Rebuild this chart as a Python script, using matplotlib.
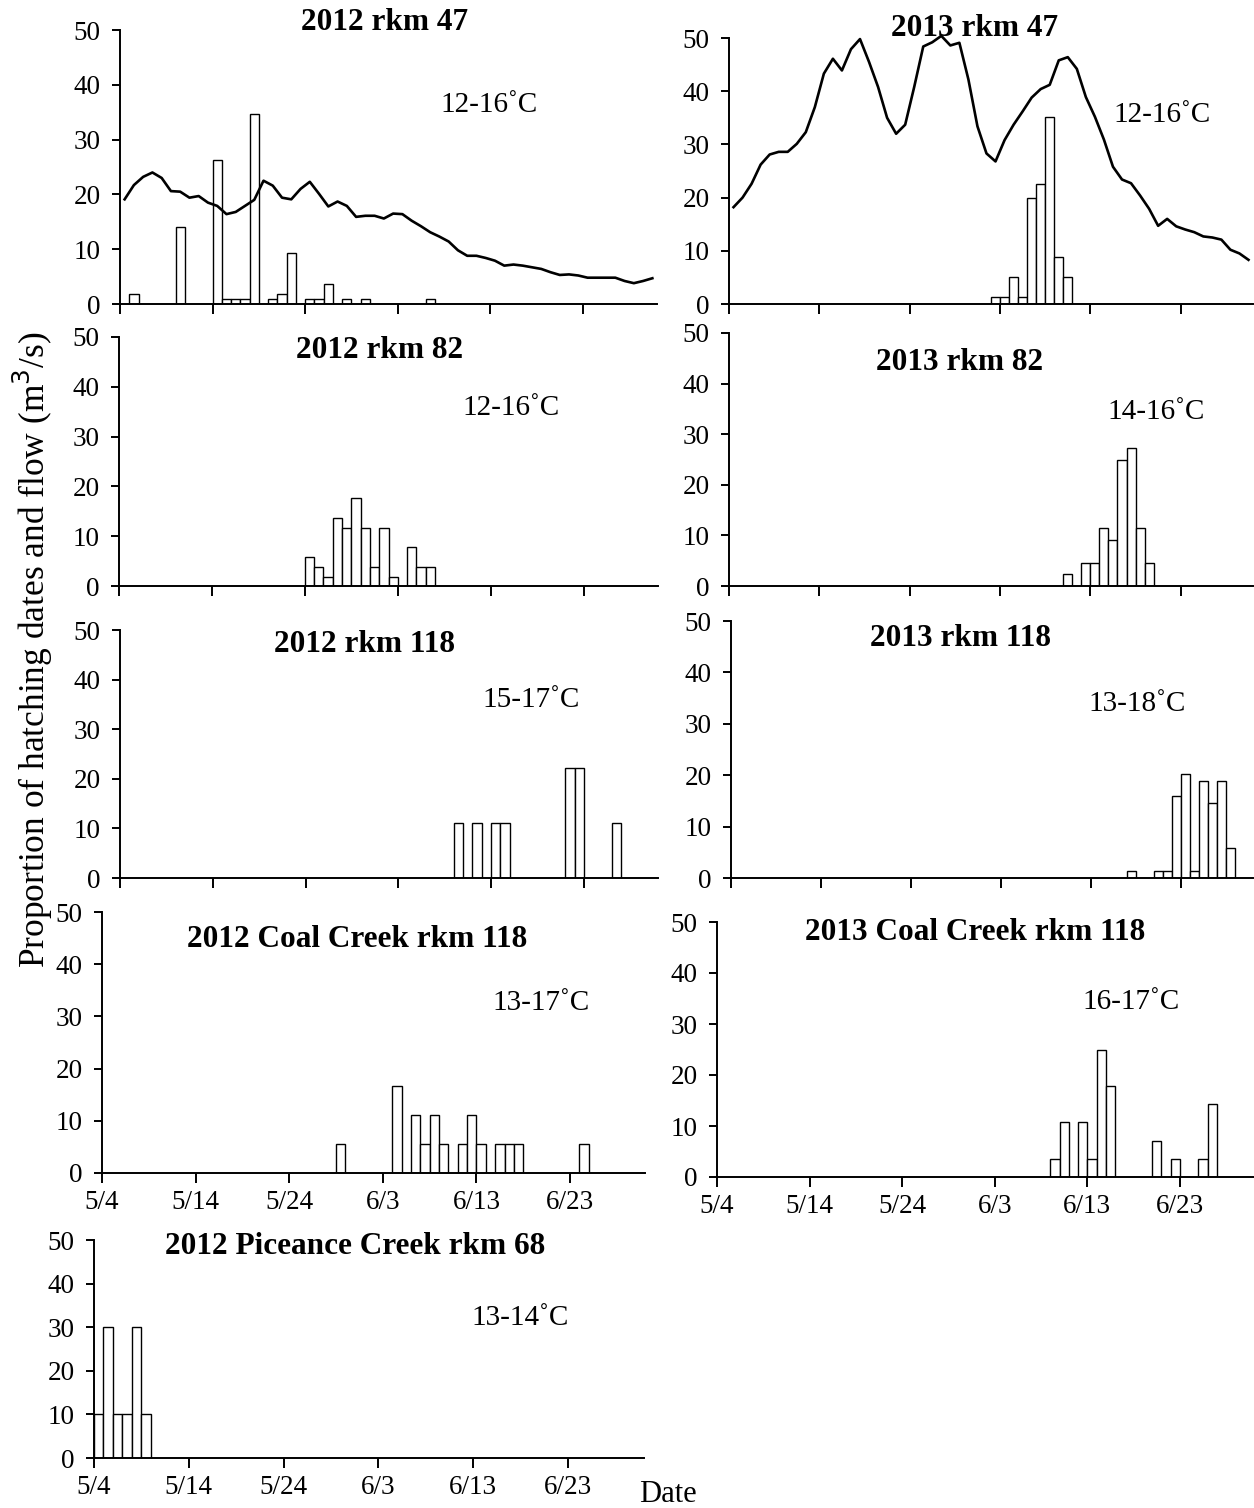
import numpy as np
import matplotlib.pyplot as plt

plt.rcParams['font.family'] = ['Liberation Serif', 'DejaVu Serif']

# Figure size in pixels
W, H = 1254, 1508

# --- Data: day index counted from 5/4 (0 = 5/4), proportion (%) of hatching dates ---
days_12_47 = [1, 6, 10, 11, 12, 13, 14, 16, 17, 18, 20, 21, 22, 24, 26, 33]
prop_12_47 = [1.8, 14.0, 26.2, 0.9, 0.9, 0.9, 34.6, 0.9, 1.8, 9.3, 0.9, 0.9, 3.6, 0.9, 0.9, 0.9]

days_13_47 = [29, 30, 31, 32, 33, 34, 35, 36, 37]
prop_13_47 = [1.25, 1.25, 5.1, 1.25, 20.0, 22.6, 35.1, 8.8, 5.1]

days_12_82 = [20, 21, 22, 23, 24, 25, 26, 27, 28, 29, 31, 32, 33]
prop_12_82 = [5.8, 3.9, 1.9, 13.7, 11.7, 17.6, 11.7, 3.9, 11.7, 1.9, 7.8, 3.9, 3.9]

days_13_82 = [37, 39, 40, 41, 42, 43, 44, 45, 46]
prop_13_82 = [2.3, 4.5, 4.5, 11.4, 9.1, 25.0, 27.3, 11.4, 4.5]

days_12_118 = [36, 38, 40, 41, 48, 49, 53]
prop_12_118 = [11.1, 11.1, 11.1, 11.1, 22.2, 22.2, 11.1]

days_13_118 = [44, 47, 48, 49, 50, 51, 52, 53, 54, 55]
prop_13_118 = [1.4, 1.4, 1.4, 15.9, 20.3, 1.4, 18.8, 14.5, 18.8, 5.8]

days_12_coal = [25, 31, 33, 34, 35, 36, 38, 39, 40, 42, 43, 44, 51]
prop_12_coal = [5.6, 16.7, 11.1, 5.6, 11.1, 5.6, 5.6, 11.1, 5.6, 5.6, 5.6, 5.6, 5.6]

days_13_coal = [36, 37, 39, 40, 41, 42, 47, 49, 52, 53]
prop_13_coal = [3.6, 10.7, 10.7, 3.6, 25.0, 17.9, 7.1, 3.6, 3.6, 14.3]

days_12_pic = [0, 1, 2, 3, 4, 5]
prop_12_pic = [10, 30, 10, 10, 30, 10]

# Daily flow (m3/s), one value per day from 5/4 to 6/30
flow_2012 = [19.1, 21.7, 23.2, 24.0, 23.0, 20.6, 20.5, 19.4, 19.7, 18.5,
             17.9, 16.4, 16.8, 17.9, 19.0, 22.5, 21.6, 19.4, 19.1, 21.0,
             22.3, 20.1, 17.8, 18.7, 17.9, 15.9, 16.1, 16.1, 15.6, 16.5,
             16.4, 15.2, 14.2, 13.1, 12.3, 11.4, 9.8, 8.8, 8.8, 8.4,
             7.9, 7.0, 7.2, 7.0, 6.7, 6.4, 5.8, 5.3, 5.4, 5.2,
             4.8, 4.8, 4.8, 4.8, 4.2, 3.8, 4.2, 4.7]
flow_2013 = [18.2, 20.0, 22.6, 26.2, 28.1, 28.6, 28.6, 30.1, 32.3, 37.0,
             43.3, 46.1, 43.9, 47.9, 49.8, 45.5, 40.8, 35.0, 32.0, 33.7,
             40.8, 48.4, 49.2, 50.4, 48.6, 49.1, 42.2, 33.4, 28.3, 26.8,
             30.8, 33.7, 36.2, 38.8, 40.4, 41.2, 45.8, 46.4, 44.2, 38.9,
             35.2, 30.9, 25.8, 23.4, 22.7, 20.4, 17.9, 14.7, 16.0, 14.6,
             14.0, 13.5, 12.7, 12.5, 12.1, 10.2, 9.5, 8.3]

tick_days = [0, 10, 20, 30, 40, 50]
tick_labels = ['5/4', '5/14', '5/24', '6/3', '6/13', '6/23']
n_days = 58

titles = ['2012 rkm 47', '2013 rkm 47', '2012 rkm 82', '2013 rkm 82',
          '2012 rkm 118', '2013 rkm 118', '2012 Coal Creek rkm 118',
          '2013 Coal Creek rkm 118', '2012 Piceance Creek rkm 68']
temps = ['12-16˚C', '12-16˚C', '12-16˚C', '14-16˚C', '15-17˚C',
         '13-18˚C', '13-17˚C', '16-17˚C', '13-14˚C']

panels = [
    (days_12_47, prop_12_47, flow_2012),
    (days_13_47, prop_13_47, flow_2013),
    (days_12_82, prop_12_82, None),
    (days_13_82, prop_13_82, None),
    (days_12_118, prop_12_118, None),
    (days_13_118, prop_13_118, None),
    (days_12_coal, prop_12_coal, None),
    (days_13_coal, prop_13_coal, None),
    (days_12_pic, prop_12_pic, None),
]

# axes boxes in pixels: left, top, right, bottom
boxes = [(120, 30, 657, 304), (729, 38, 1253, 304),
         (119, 337, 658, 586), (729, 333, 1253, 586),
         (120, 630, 658, 878), (731, 621, 1253, 878),
         (102, 912, 645, 1173), (717, 922, 1254, 1177),
         (94, 1240, 644, 1458)]
title_pos = [(385, 22), (975, 28), (380, 350), (960, 362), (365, 645),
             (960, 638), (357, 940), (975, 932), (355, 1247)]
temp_pos = [(489, 105), (1162, 115), (511, 408), (1156, 412), (531, 700),
            (1137, 704), (541, 1003), (1131, 1002), (520, 1318)]
label_panels = [6, 7, 8]


def fx(x):
    return x / W


def fy(y):
    return 1 - y / H


fig = plt.figure(figsize=(W / 100, H / 100), dpi=100)

for i, (days, prop, flow) in enumerate(panels):
    l, t, r, b = boxes[i]
    ax = fig.add_axes([fx(l), fy(b), fx(r) - fx(l), (b - t) / H])
    ax.bar(days, prop, width=1, align='edge', color='white',
           edgecolor='black', linewidth=1.0, zorder=2)
    if flow is not None:
        x = np.arange(len(flow)) + 0.5
        ax.plot(x, flow, color='black', linewidth=1.9, clip_on=False, zorder=3)
    ax.set_xlim(0, n_days)
    ax.set_ylim(0, 50)
    ax.set_yticks([0, 10, 20, 30, 40, 50])
    ax.set_xticks(tick_days)
    if i in label_panels:
        ax.set_xticklabels(tick_labels)
    else:
        ax.set_xticklabels([])
    for s in ['top', 'right']:
        ax.spines[s].set_visible(False)
    for s in ['left', 'bottom']:
        ax.spines[s].set_linewidth(1.4)
    ax.tick_params(axis='y', direction='out', length=6, width=1.4,
                   labelsize=19.5, pad=8)
    ax.tick_params(axis='x', direction='out', length=7, width=1.4,
                   labelsize=19.5, pad=5)
    ax.patch.set_alpha(0)

    fig.text(fx(title_pos[i][0]), fy(title_pos[i][1]), titles[i],
             ha='center', va='center', fontsize=22.5, fontweight='bold')
    fig.text(fx(temp_pos[i][0]), fy(temp_pos[i][1]), temps[i],
             ha='center', va='center', fontsize=21)

fig.text(fx(33), fy(650), 'Proportion of hatching dates and flow (m$^3$/s)',
         rotation=90, ha='center', va='center', fontsize=25.5)
fig.text(fx(668), fy(1494), 'Date', ha='center', va='center', fontsize=22)

fig.savefig('out.png', dpi=100)
